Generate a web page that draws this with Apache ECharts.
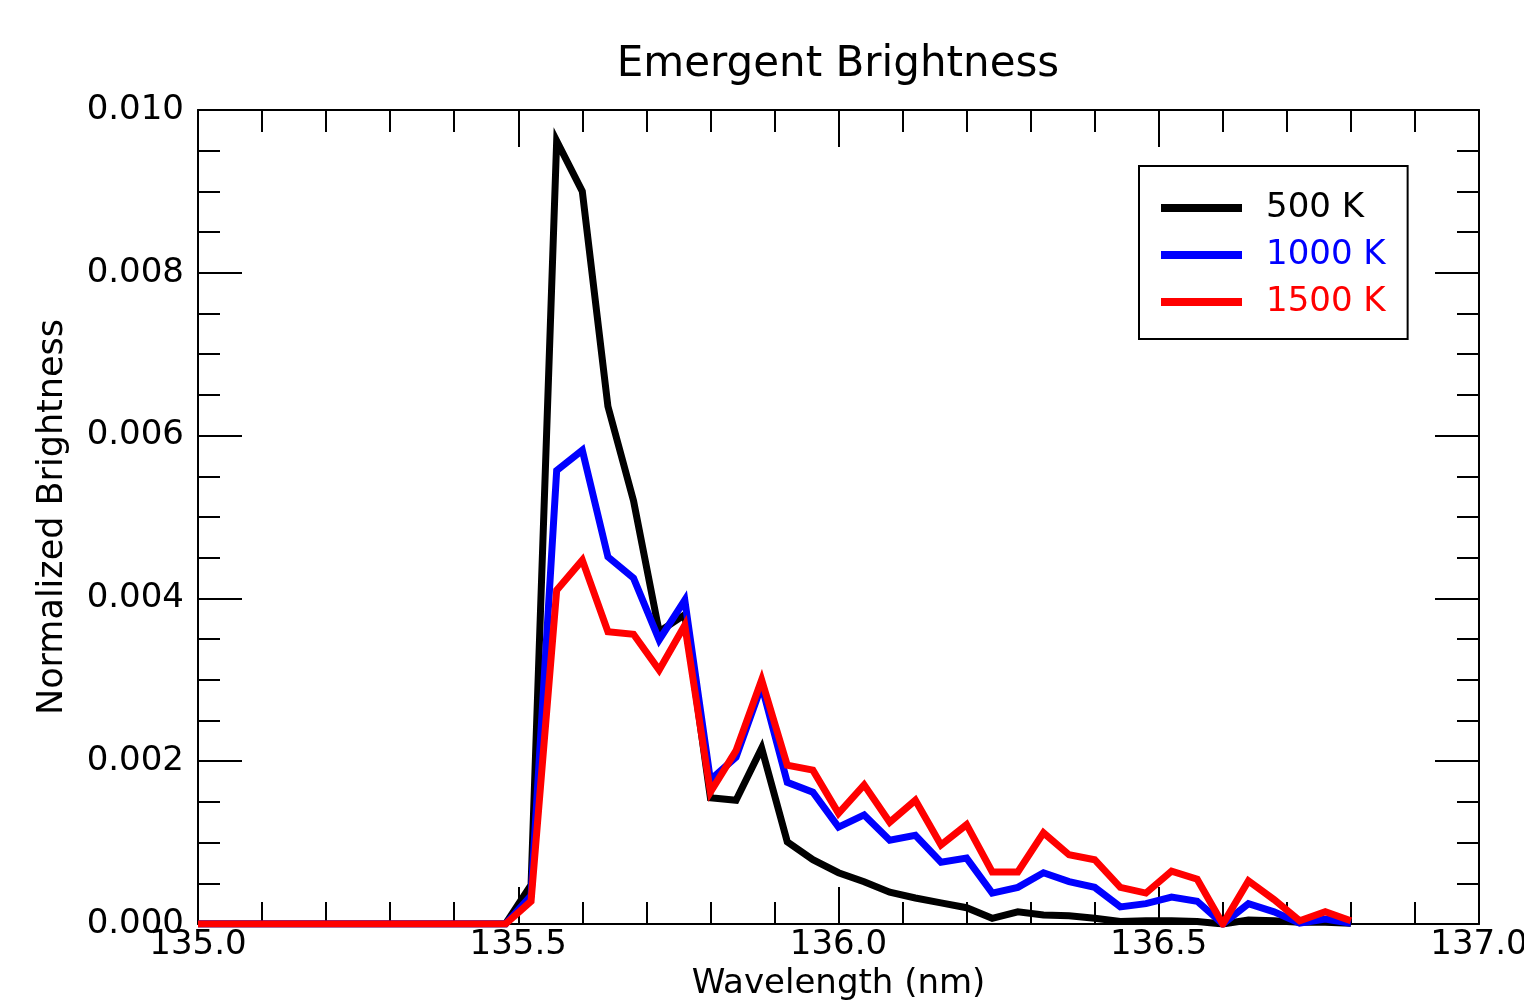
<!DOCTYPE html>
<html>
<head>
<meta charset="utf-8">
<title>Emergent Brightness</title>
<script src="https://cdn.jsdelivr.net/npm/echarts@6/dist/echarts.min.js"></script>
<style>
  html, body { margin: 0; padding: 0; background: #ffffff; }
  #chart { width: 1524px; height: 1004px; }
</style>
</head>
<body>
<div id="chart"></div>
<script>
// Wavelength grid (nm), 0.04 nm steps from 135.00 to 136.80
const wavelengths = [
  135.00, 135.04, 135.08, 135.12, 135.16, 135.20, 135.24, 135.28, 135.32, 135.36,
  135.40, 135.44, 135.48, 135.52, 135.56, 135.60, 135.64, 135.68, 135.72, 135.76,
  135.80, 135.84, 135.88, 135.92, 135.96, 136.00, 136.04, 136.08, 136.12, 136.16,
  136.20, 136.24, 136.28, 136.32, 136.36, 136.40, 136.44, 136.48, 136.52, 136.56,
  136.60, 136.64, 136.68, 136.72, 136.76, 136.80
];

// Normalized brightness for each temperature
const brightness500K = [
  0, 0, 0, 0, 0, 0, 0, 0, 0, 0,
  0, 0, 0, 0.00048, 0.00962, 0.00900, 0.00636, 0.00520, 0.00359, 0.00380,
  0.00155, 0.00152, 0.00216, 0.00101, 0.00079, 0.00063, 0.00052, 0.00039, 0.00032, 0.00026,
  0.00020, 0.00007, 0.00015, 0.00011, 0.00010, 0.00007, 0.00003, 0.00004, 0.00004, 0.00003,
  0.00000, 0.00005, 0.00004, 0.00002, 0.00002, 0.00001
];
const brightness1000K = [
  0, 0, 0, 0, 0, 0, 0, 0, 0, 0,
  0, 0, 0, 0.00035, 0.00557, 0.00582, 0.00451, 0.00425, 0.00349, 0.00398,
  0.00177, 0.00205, 0.00293, 0.00174, 0.00162, 0.00119, 0.00134, 0.00103, 0.00109, 0.00076,
  0.00081, 0.00038, 0.00045, 0.00063, 0.00052, 0.00045, 0.00021, 0.00025, 0.00033, 0.00028,
  0.00000, 0.00025, 0.00015, 0.00001, 0.00006, 0.00001
];
const brightness1500K = [
  0, 0, 0, 0, 0, 0, 0, 0, 0, 0,
  0, 0, 0, 0.00028, 0.00410, 0.00447, 0.00359, 0.00356, 0.00312, 0.00367,
  0.00162, 0.00213, 0.00300, 0.00195, 0.00189, 0.00136, 0.00171, 0.00125, 0.00152, 0.00097,
  0.00122, 0.00064, 0.00064, 0.00112, 0.00085, 0.00079, 0.00045, 0.00038, 0.00065, 0.00055,
  0.00000, 0.00053, 0.00030, 0.00004, 0.00015, 0.00004
];

const seriesNames = ['500 K', '1000 K', '1500 K'];
const seriesColors = ['#000000', '#0000ff', '#ff0000'];
const seriesValues = [brightness500K, brightness1000K, brightness1500K];

const FONT = 'DejaVu Sans';

function pairs(values) {
  return wavelengths.map((w, i) => [w, values[i]]);
}

const xTickStyle = {
  axisLine: { show: true, onZero: false, lineStyle: { color: '#000', width: 2 } },
  axisTick: { show: true, inside: true, length: 37, lineStyle: { color: '#000', width: 2 } },
  minorTick: { show: true, splitNumber: 5, length: 22, lineStyle: { color: '#000', width: 2 } },
  splitLine: { show: false },
  minorSplitLine: { show: false }
};
const yTickStyle = {
  axisLine: { show: true, onZero: false, lineStyle: { color: '#000', width: 2 } },
  axisTick: { show: true, inside: true, length: 44, lineStyle: { color: '#000', width: 2 } },
  minorTick: { show: true, splitNumber: 4, length: 22, lineStyle: { color: '#000', width: 2 } },
  splitLine: { show: false },
  minorSplitLine: { show: false }
};

const chart = echarts.init(document.getElementById('chart'), null, { renderer: 'canvas' });

chart.setOption({
  animation: false,
  backgroundColor: '#ffffff',
  textStyle: { fontFamily: FONT },
  title: {
    text: 'Emergent Brightness',
    left: 838,
    top: 44,
    textAlign: 'center',
    padding: 0,
    textStyle: { fontFamily: FONT, fontSize: 42, fontWeight: 'normal', color: '#000' }
  },
  grid: {
    left: 198, right: 45, top: 110, bottom: 80,
    containLabel: false,
    outerBoundsMode: 'none'
  },
  legend: {
    orient: 'vertical',
    left: 1139,
    top: 166,
    padding: [25, 22, 20, 22],
    itemGap: 13,
    itemWidth: 81,
    itemHeight: 8,
    icon: 'rect',
    borderColor: '#000',
    borderWidth: 2,
    borderRadius: 0,
    selectedMode: false,
    textStyle: { fontFamily: FONT, fontSize: 34, lineHeight: 34, padding: [0, 0, 0, 19] },
    data: seriesNames.map((n, i) => ({ name: n, textStyle: { color: seriesColors[i] } }))
  },
  xAxis: [
    Object.assign({
      type: 'value', position: 'bottom', min: 135, max: 137, interval: 0.5,
      name: 'Wavelength (nm)', nameLocation: 'middle', nameGap: 41,
      nameTextStyle: { fontFamily: FONT, fontSize: 34, color: '#000' },
      axisLabel: {
        show: true, margin: 4, fontFamily: FONT, fontSize: 34, color: '#000',
        formatter: v => v.toFixed(1)
      }
    }, xTickStyle),
    Object.assign({
      type: 'value', position: 'top', min: 135, max: 137, interval: 0.5,
      axisLabel: { show: false }
    }, xTickStyle)
  ],
  yAxis: [
    Object.assign({
      type: 'value', position: 'left', min: 0, max: 0.01, interval: 0.002,
      name: 'Normalized Brightness', nameLocation: 'middle', nameGap: 128,
      nameTextStyle: { fontFamily: FONT, fontSize: 35, color: '#000' },
      axisLabel: {
        show: true, margin: 14, fontFamily: FONT, fontSize: 34, color: '#000',
        formatter: v => v.toFixed(3)
      }
    }, yTickStyle),
    Object.assign({
      type: 'value', position: 'right', min: 0, max: 0.01, interval: 0.002,
      axisLabel: { show: false }
    }, yTickStyle)
  ],
  series: seriesNames.map((n, i) => ({
    name: n,
    type: 'line',
    xAxisIndex: 0,
    yAxisIndex: 0,
    data: pairs(seriesValues[i]),
    showSymbol: false,
    symbol: 'none',
    color: seriesColors[i],
    lineStyle: { color: seriesColors[i], width: 7, join: 'miter', miterLimit: 20, cap: 'butt' },
    z: 2 + i
  }))
});
</script>
</body>
</html>
